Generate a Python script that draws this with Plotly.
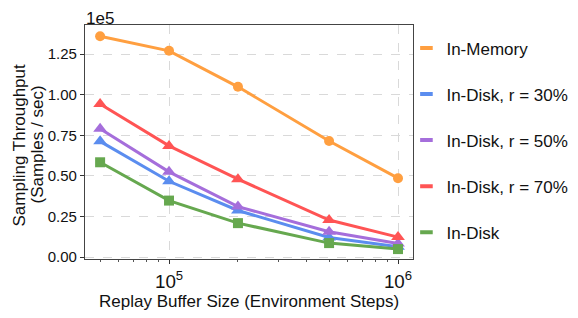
import plotly.graph_objects as go

buffer_sizes = [50000, 100000, 200000, 500000, 1000000]
in_memory = [136100, 127100, 104900, 71500, 48600]
disk_r30 = [71300, 46700, 28700, 12100, 6300]
disk_r50 = [79100, 52500, 31100, 15600, 8400]
disk_r70 = [94300, 68500, 48000, 22800, 12300]
in_disk = [58400, 34800, 20900, 8600, 4900]

series_names = ["In-Memory", "In-Disk, r = 30%", "In-Disk, r = 50%", "In-Disk, r = 70%", "In-Disk"]
series_values = [in_memory, disk_r30, disk_r50, disk_r70, in_disk]
series_colors = ["#FF9F40", "#5B8DEF", "#A56EDB", "#FF5454", "#66A84F"]
series_symbols = ["circle", "triangle-up", "triangle-up", "triangle-up", "square"]
series_marker_sizes = [10, 12, 12, 12, 10]

y_tick_vals = [0, 25000, 50000, 75000, 100000, 125000]
y_tick_text = ["0.00", "0.25", "0.50", "0.75", "1.00", "1.25"]

FONT = "Liberation Sans, Arial, sans-serif"

fig = go.Figure()
for name, vals, col, sym, ms in zip(series_names, series_values, series_colors, series_symbols, series_marker_sizes):
    fig.add_trace(go.Scatter(
        x=buffer_sizes, y=vals, mode="lines+markers", name=name,
        line=dict(color=col, width=3),
        marker=dict(symbol=sym, size=ms, color=col),
        showlegend=False,
    ))
for i, (name, col) in enumerate(zip(series_names, series_colors)):
    fig.add_trace(go.Scatter(
        x=[None], y=[None], mode="markers", name=name,
        marker=dict(symbol="line-ew", size=9, color=col, line=dict(color=col, width=4)),
        legendgroup=f"g{i}", showlegend=True,
    ))

fig.update_layout(
    width=586, height=318,
    margin=dict(l=77, r=181, t=17, b=67),
    paper_bgcolor="white", plot_bgcolor="white",
    font=dict(family=FONT, size=15, color="#111"),
    legend=dict(x=0.980, xanchor="left", y=0.507, yanchor="middle",
                xref="paper", yref="paper",
                font=dict(family=FONT, size=17, color="#111"),
                traceorder="grouped", tracegroupgap=21,
                bgcolor="rgba(0,0,0,0)", borderwidth=0),
    xaxis=dict(
        type="log", range=[4.633, 6.0655], dtick=1, exponentformat="power",
        showgrid=True, gridcolor="#d9d9d9", griddash="dash", gridwidth=1,
        ticks="outside", ticklen=4, tickcolor="#333",
        showline=True, linecolor="#444", linewidth=1.2, mirror=True,
        minor=dict(ticks="outside", ticklen=2, tickcolor="#555", dtick="D1", showgrid=False),
        tickfont=dict(size=15), zeroline=False, automargin=False,
        ticklabelstandoff=2,
    ),
    yaxis=dict(
        range=[-1200, 143000], tickvals=y_tick_vals, ticktext=y_tick_text,
        showgrid=True, gridcolor="#d9d9d9", griddash="dash", gridwidth=1,
        ticks="outside", ticklen=4, tickcolor="#333",
        showline=True, linecolor="#444", linewidth=1.2, mirror=True,
        tickfont=dict(size=15), zeroline=False, automargin=False,
    ),
    annotations=[
        dict(text="1e5", x=0, y=1, xref="paper", yref="paper",
             xanchor="left", yanchor="bottom", showarrow=False,
             font=dict(size=17), xshift=-1, yshift=-5),
        dict(text="Replay Buffer Size (Environment Steps)", x=0.5, y=0, xref="paper", yref="paper",
             xanchor="center", yanchor="middle", showarrow=False,
             font=dict(size=17), yshift=-42),
        dict(text="Sampling Throughput", x=0, y=0.5, xref="paper", yref="paper",
             xanchor="center", yanchor="middle", showarrow=False, textangle=-90,
             font=dict(size=17), xshift=-66.5, yshift=-3),
        dict(text="(Samples / sec)", x=0, y=0.5, xref="paper", yref="paper",
             xanchor="center", yanchor="middle", showarrow=False, textangle=-90,
             font=dict(size=17), xshift=-48.5, yshift=-3),
    ],
)

fig.write_html("out.html")
